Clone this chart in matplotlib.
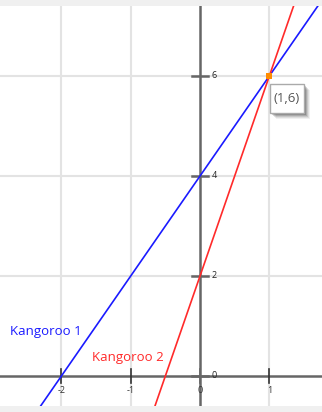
import matplotlib
matplotlib.use("Agg")
from matplotlib import pyplot as plt
from matplotlib.patches import Rectangle

plt.rcParams['font.family'] = ['Open Sans', 'DejaVu Sans']

# data
k1_x = [-3, 2]
k1_y = [-2, 8]
k2_x = [-1, 2]
k2_y = [-2, 10]
meet = (1, 6)
x_ticks = [-2, -1, 0, 1]
y_ticks = [2, 4, 6]

W, H = 322, 412
fig = plt.figure(figsize=(W/100, H/100), dpi=100)
fig.patch.set_facecolor('#f0f0f0')
ax = fig.add_axes([0, 6/H, 1, 400/H])
ax.set_facecolor('white')
ax.set_xlim(-2.886, 1.76)
ax.set_ylim(-0.6, 7.4)
for s in ax.spines.values():
    s.set_visible(False)
ax.set_xticks([])
ax.set_yticks([])

gc = '#e3e3e3'
for x in x_ticks:
    if x != 0:
        ax.axvline(x, color=gc, lw=1.5, zorder=0)
for y in y_ticks:
    ax.axhline(y, color=gc, lw=1.5, zorder=0)

ac = '#666666'
ax.axhline(0, color=ac, lw=1.8, zorder=1)
ax.axvline(0, color=ac, lw=1.8, zorder=1)

# tick marks
dx = 8/69.3
dy = 7/50
for x in x_ticks:
    ax.plot([x, x], [-dy, dy], color='#333333' if x else ac, lw=1.2, zorder=1)
    ax.text(x, -0.2, str(x), ha='center', va='top', fontsize=6.5, color='#333333')
for y in [0] + y_ticks:
    ax.plot([-dx, dx], [y, y], color=ac, lw=1.8, zorder=1)
    ax.text(0.17, y, str(y), ha='left', va='center', fontsize=6.5, color='#222222')

ax.plot(k1_x, k1_y, color='#1a1aff', lw=1.2, zorder=2)
ax.plot(k2_x, k2_y, color='#ff2a2a', lw=1.2, zorder=2)
ax.plot(*meet, marker='s', ms=4.5, mew=0, color='#ff8c00', zorder=3)

ax.text(-2.74, 0.88, 'Kangoroo 1', color='#1a1aff', fontsize=9.5, va='center', ha='left')
ax.text(-1.56, 0.38, 'Kangoroo 2', color='#ff2a2a', fontsize=9.5, va='center', ha='left')

# tooltip box (pixel coords from top-left) with a soft shadow
bx0, bx1, by0, by1 = 270, 304, 84, 113
for off, a in [(6, 0.06), (5, 0.08), (4, 0.10), (3, 0.14), (2, 0.18)]:
    fig.add_artist(Rectangle(((bx0 + off) / W, 1 - (by1 + off) / H), (bx1 - bx0) / W,
                             (by1 - by0) / H, transform=fig.transFigure,
                             fc='black', ec='none', alpha=a, zorder=4))
fig.add_artist(Rectangle((bx0 / W, 1 - by1 / H), (bx1 - bx0) / W, (by1 - by0) / H,
                         transform=fig.transFigure, fc='white', ec='#aaaaaa', lw=1, zorder=5))
fig.text((bx0 + bx1) / 2 / W, 1 - (by0 + by1) / 2 / H, '(1,6)', fontsize=9.5,
         color='#555555', ha='center', va='center', zorder=6)

fig.savefig('out.png', dpi=100, facecolor=fig.get_facecolor())
